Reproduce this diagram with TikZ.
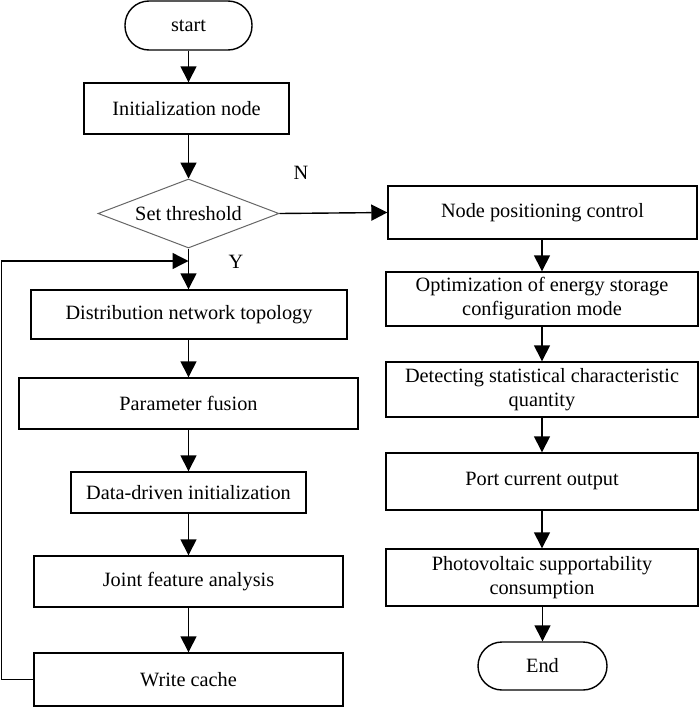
\documentclass[tikz,border=0pt]{standalone}
\usepackage{fontspec}
\setmainfont{Liberation Serif}
\usetikzlibrary{arrows.meta,shapes.geometric}
\begin{document}
\begin{tikzpicture}[x=1pt,y=-1pt,
  every node/.style={font=\fontsize{20.3}{24}\selectfont, inner sep=0pt, align=center},
  box/.style={draw, line width=1.4pt, rectangle},
  term/.style={draw, line width=1.4pt, rectangle, rounded corners=24pt},
  dec/.style={draw=black!60, line width=1pt, diamond, aspect=2.62},
  arr/.style={line width=1.4pt, -{Triangle[length=16pt,width=16pt]}}]
\useasboundingbox (0,0) rectangle (699,707);
\node[term, minimum width=127pt, minimum height=49pt] (start) at (188.5,25.5) {start};
\node[box, minimum width=205pt, minimum height=51pt] (init) at (186.5,108.5) {Initialization node};
\node[dec, minimum width=181pt, minimum height=69pt] (dia) at (188.5,213.5) {Set threshold};
\node[box, minimum width=316pt, minimum height=49pt] (dist) at (189,314.5) {Distribution network topology};
\node[box, minimum width=339pt, minimum height=51pt] (pf) at (188.5,403.5) {Parameter fusion};
\node[box, minimum width=235pt, minimum height=41pt] (dd) at (188.5,492.5) {Data-driven initialization};
\node[box, minimum width=309pt, minimum height=51pt] (jfa) at (188.5,581.5) {Joint feature analysis};
\node[box, minimum width=309pt, minimum height=53pt] (wc) at (188.5,679.5) {Write cache};
\node[box, minimum width=309pt, minimum height=53pt] (npc) at (542.5,212.5) {Node positioning control};
\node[box, minimum width=312pt, minimum height=54pt] (opt) at (542,299) {Optimization of energy storage\\configuration mode};
\node[box, minimum width=312pt, minimum height=55pt] (det) at (542,389.5) {Detecting statistical characteristic\\quantity};
\node[box, minimum width=312pt, minimum height=57pt] (port) at (542,481.5) {Port current output};
\node[box, minimum width=312pt, minimum height=57pt] (pv) at (542,577.5) {Photovoltaic supportability\\consumption};
\node[term, minimum width=129pt, minimum height=48pt] (end) at (542.5,666) {End};
\node (N) at (301,173) {N};
\node (Y) at (236,262) {Y};
\coordinate (loopL) at (1.5,261);
\coordinate (loopE) at (188.5,261);
\draw[arr] (start.south) -- (start.south |- init.north);
\draw[arr] (init.south -| dia.north) -- (dia.north);
\draw[arr] (dia.east) -- (npc.west);
\draw[arr] (dia.south) -- (dia.south |- dist.north);
\draw[arr] (dist.south -| pf.north) -- (pf.north);
\draw[arr] (pf) -- (dd);
\draw[arr] (dd) -- (jfa);
\draw[arr] (jfa) -- (wc);
\draw[arr] (wc.west) -| (loopL) -- (loopE);
\draw[arr] (npc.south -| opt.north) -- (opt.north);
\draw[arr] (opt) -- (det);
\draw[arr] (det) -- (port);
\draw[arr] (port) -- (pv);
\draw[arr] (pv.south -| end.north) -- (end.north);
\end{tikzpicture}
\end{document}
